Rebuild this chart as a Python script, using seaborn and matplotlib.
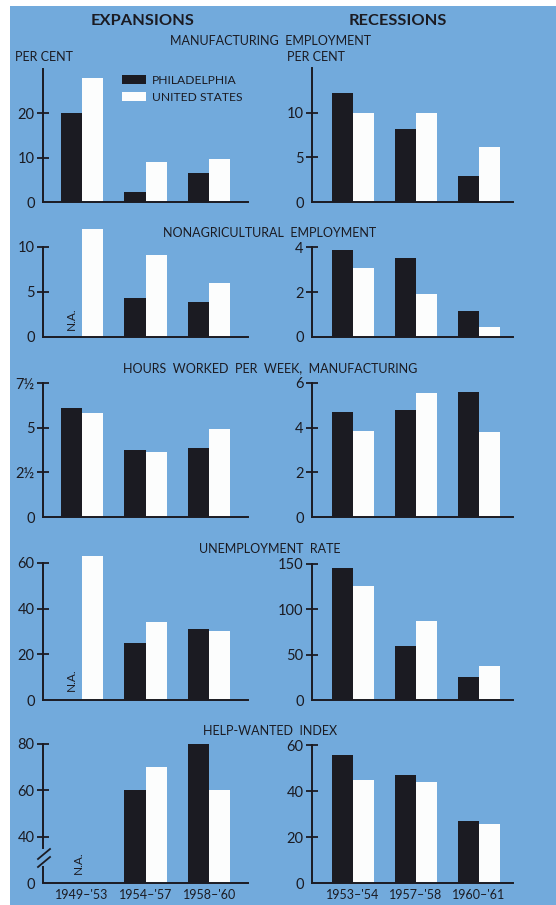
import numpy as np
import pandas as pd
import matplotlib
matplotlib.use("Agg")
import matplotlib.pyplot as plt
from matplotlib.patches import Rectangle
from matplotlib.lines import Line2D
import seaborn as sns

#=================================#
# Data
#=================================#
areas = ["PHILADELPHIA", "UNITED STATES"]
periods_exp = ["1949\u2013'53", "1954\u2013'57", "1958\u2013'60"]
periods_rec = ["1953\u2013'54", "1957\u2013'58", "1960\u2013'61"]

row_titles = ["MANUFACTURING  EMPLOYMENT", "NONAGRICULTURAL  EMPLOYMENT",
              "HOURS  WORKED  PER  WEEK,  MANUFACTURING", "UNEMPLOYMENT  RATE",
              "HELP-WANTED  INDEX"]

# per cent change, expansions (left) and recessions (right); nan = N.A.
mfg_exp_phila = [20.0, 2.2, 6.5]
mfg_exp_us = [28.0, 9.0, 9.7]
mfg_rec_phila = [12.2, 8.2, 2.9]
mfg_rec_us = [10.0, 10.0, 6.2]

nonag_exp_phila = [np.nan, 4.3, 3.9]
nonag_exp_us = [12.0, 9.1, 6.0]
nonag_rec_phila = [3.85, 3.5, 1.15]
nonag_rec_us = [3.05, 1.9, 0.45]

hours_exp_phila = [6.1, 3.75, 3.85]
hours_exp_us = [5.8, 3.65, 4.9]
hours_rec_phila = [4.7, 4.8, 5.6]
hours_rec_us = [3.85, 5.55, 3.8]

unemp_exp_phila = [np.nan, 25.0, 31.0]
unemp_exp_us = [63.0, 34.0, 30.0]
unemp_rec_phila = [146.0, 60.0, 25.0]
unemp_rec_us = [126.0, 87.0, 38.0]

help_exp_phila = [np.nan, 60.0, 80.0]
help_exp_us = [np.nan, 70.0, 60.0]
help_rec_phila = [55.5, 47.0, 27.0]
help_rec_us = [45.0, 44.0, 25.5]

# y ticks per panel
ticks_left = [[0, 10, 20], [0, 5, 10], [0, 2.5, 5, 7.5], [0, 20, 40, 60], [0, 40, 60, 80]]
labels_left = [["0", "10", "20"], ["0", "5", "10"], ["0", "2\u00bd", "5", "7\u00bd"],
               ["0", "20", "40", "60"], ["0", "40", "60", "80"]]
ticks_right = [[0, 5, 10], [0, 2, 4], [0, 2, 4, 6], [0, 50, 100, 150], [0, 20, 40, 60]]

#=================================#
# Style / layout
#=================================#
BG = "#72aadc"
INK = "#1b1b22"
WHITE = "#fcfdfd"
FONT = ["Lato", "DejaVu Sans"]
plt.rcParams["font.family"] = FONT

W, H = 556, 905
def fx(px):
    return px / W
def fy(py):
    return 1 - py / H

fig = plt.figure(figsize=(W / 100, H / 100), dpi=100, facecolor="white")
fig.patches.append(Rectangle((fx(10), 0), 1 - fx(10), fy(6), transform=fig.transFigure,
                             facecolor=BG, edgecolor="none", zorder=-10))

# rows: baseline px, top px; ylim per column; spine top value
rows_px = [(202, 62), (337, 225), (517, 378), (700, 552), (883, 740)]
ylim_left = [31.5, 12.44, 7.78, 64.8, 81.7]
ylim_right = [15.7, 4.98, 6.22, 163.2, 62.2]
spine_left = [30, 10, 7.5, 60, 80]
spine_right = [15, 4, 6, 150, 60]
cols_px = [(43, 248, (-0.61, 2.61)), (312, 513, (-0.65, 2.54))]
title_y = [41, 233, 368, 549, 731]
na_pos = [None, -0.17, None, -0.17, -0.05]

data_left = [(mfg_exp_phila, mfg_exp_us), (nonag_exp_phila, nonag_exp_us),
             (hours_exp_phila, hours_exp_us), (unemp_exp_phila, unemp_exp_us),
             (help_exp_phila, help_exp_us)]
data_right = [(mfg_rec_phila, mfg_rec_us), (nonag_rec_phila, nonag_rec_us),
              (hours_rec_phila, hours_rec_us), (unemp_rec_phila, unemp_rec_us),
              (help_rec_phila, help_rec_us)]


def fwd(y):
    y = np.asarray(y, dtype=float)
    return np.where(y < 40, y / 2, y - 20)


def inv(y):
    y = np.asarray(y, dtype=float)
    return np.where(y < 20, y * 2, y + 20)


def make_panel(r, c):
    base, top = rows_px[r]
    x0, x1, xlim = cols_px[c]
    ax = fig.add_axes([fx(x0), fy(base), fx(x1) - fx(x0), (base - top) / H])
    ax.set_facecolor("none")
    periods = periods_exp if c == 0 else periods_rec
    phila, us = (data_left if c == 0 else data_right)[r]
    df = pd.DataFrame({"period": periods * 2,
                       "area": [areas[0]] * 3 + [areas[1]] * 3,
                       "value": list(phila) + list(us)}).dropna()
    sns.barplot(data=df, x="period", y="value", hue="area", order=periods,
                hue_order=areas, palette=[INK, WHITE], width=0.67, saturation=1,
                linewidth=0, errorbar=None, ax=ax, legend=(r == 0 and c == 0))
    if r == 4 and c == 0:
        ax.set_yscale("function", functions=(fwd, inv))
    ax.set_xlim(*xlim)
    ax.set_ylim(0, (ylim_left if c == 0 else ylim_right)[r])
    ax.set_xlabel("")
    ax.set_ylabel("")
    for s in ["top", "right"]:
        ax.spines[s].set_visible(False)
    for s in ["left", "bottom"]:
        ax.spines[s].set_color(INK)
        ax.spines[s].set_linewidth(1.4)
    ax.spines["left"].set_bounds(0, (spine_left if c == 0 else spine_right)[r])
    if c == 0:
        ax.set_yticks(ticks_left[r], labels_left[r])
    else:
        ax.set_yticks(ticks_right[r], [str(t) for t in ticks_right[r]])
    ax.yaxis.set_minor_locator(matplotlib.ticker.NullLocator())
    ax.tick_params(axis="y", direction="inout", length=8, width=1.3, color=INK,
                   labelsize=10.5, labelcolor=INK, pad=2)
    ax.yaxis.get_major_ticks()[0].tick1line.set_visible(False)
    if r == 4:
        ax.tick_params(axis="x", length=0, labelsize=9, labelcolor=INK, pad=4)
    else:
        ax.tick_params(axis="x", length=0, labelbottom=False)
    if na_pos[r] is not None and c == 0:
        ax.text(na_pos[r], 0.06, "N.A.", rotation=90, ha="center", va="bottom",
                fontsize=8.5, color=INK, transform=ax.get_xaxis_transform())
    return ax


axes = {}
for r in range(5):
    for c in range(2):
        axes[(r, c)] = make_panel(r, c)

# legend
sns.move_legend(axes[(0, 0)], "upper left", bbox_to_anchor=(fx(122), fy(75)),
                bbox_transform=fig.transFigure, frameon=False, title=None,
                fontsize=8.7, handlelength=2.0, handleheight=0.8,
                handletextpad=0.45, labelspacing=0.5, borderpad=0, borderaxespad=0)
for t in axes[(0, 0)].get_legend().get_texts():
    t.set_color(INK)

# broken axis on help-wanted (expansions)
ax = axes[(4, 0)]
ax.spines["left"].set_bounds(30, 80)
ax.plot([-0.61, -0.61], [0, 15], color=INK, lw=1.4, clip_on=False, solid_capstyle="butt")
fig.add_artist(Line2D([fx(38), fx(50)], [fy(859), fy(849)], color=INK, lw=1.3,
                      transform=fig.transFigure))
fig.add_artist(Line2D([fx(38), fx(50)], [fy(867), fy(857)], color=INK, lw=1.3,
                      transform=fig.transFigure))

# headings
fig.text(fx(143), fy(21), "EXPANSIONS", ha="center", va="center", fontsize=11.8,
         fontweight="bold", color=INK)
fig.text(fx(398), fy(21), "RECESSIONS", ha="center", va="center", fontsize=11.8,
         fontweight="bold", color=INK)
for ttl, yy in zip(row_titles, title_y):
    fig.text(fx(270), fy(yy), ttl, ha="center", va="center", fontsize=9, color=INK)
fig.text(fx(15), fy(57), "PER CENT", ha="left", va="center", fontsize=9, color=INK)
fig.text(fx(287), fy(57), "PER CENT", ha="left", va="center", fontsize=9, color=INK)

plt.savefig("out.png", dpi=100, facecolor="white")
